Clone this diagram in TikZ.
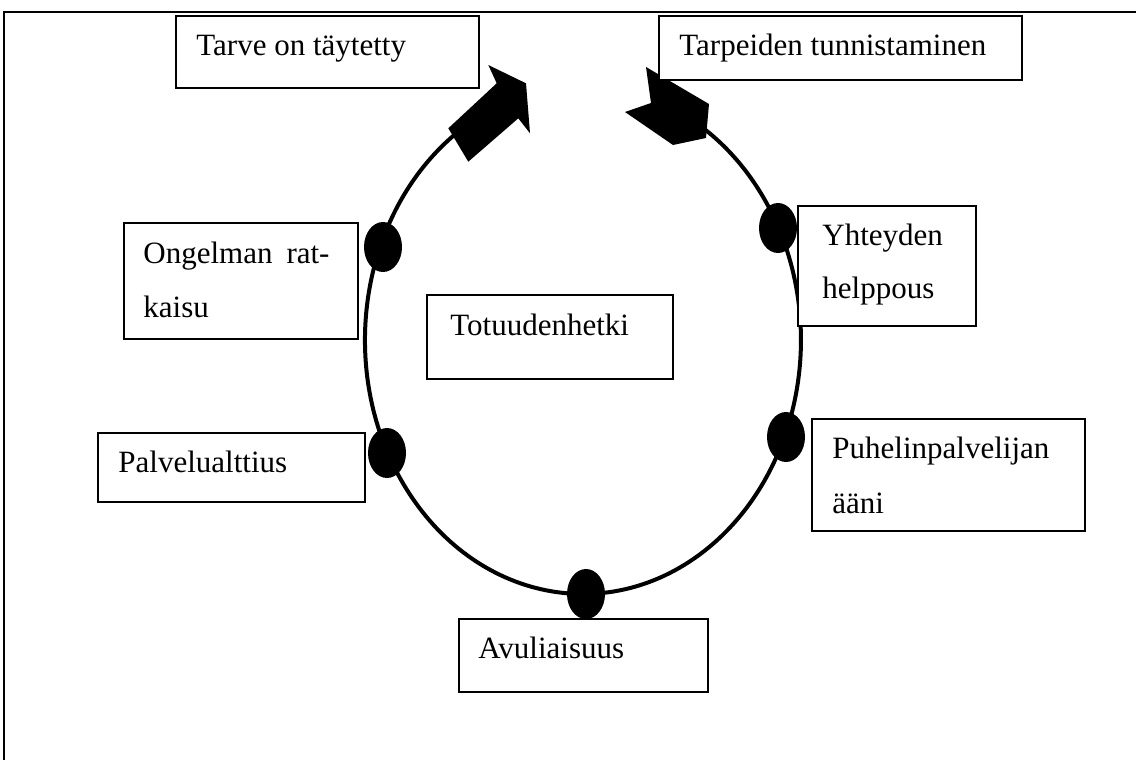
\documentclass[tikz,border=0pt]{standalone}
\usepackage{fontspec}
\setmainfont{Liberation Serif}
\usetikzlibrary{shapes.geometric}
\begin{document}
\begin{tikzpicture}[x=0.5pt,y=-0.5pt,
  box/.style={draw=black,line width=1pt,fill=white,inner sep=0pt,anchor=north west},
  lbl/.style={anchor=base west,inner sep=0pt,font=\fontsize{15.5}{18}\selectfont},
  dot/.style={ellipse,fill=black,draw=none,inner sep=0pt,minimum width=19pt,minimum height=25pt},
  ring/.style={line width=2pt,draw=black},
  blockarrow/.style={fill=black,draw=none}]
\useasboundingbox (0,0) rectangle (1136,760);
% frame
\coordinate (fTL) at (4,12);
\coordinate (fTR) at (1136,12);
\coordinate (fBL) at (4,760);
\draw[line width=1pt] (fBL) -- (fTL) -- (fTR);
% ring
\draw[ring] (453.3,135.8) arc[start angle=126.5,end angle=417.6,x radius=109pt,y radius=127pt];
% arrows
\fill[blockarrow] (448.3,128.3) -- (496.7,83.3) -- (488.3,65) -- (526,83.3) -- (530,133.3) -- (518.3,118.3) -- (468.3,161.7) -- cycle;
\fill[blockarrow] (646,67) -- (709,104) -- (706,138) -- (673,145) -- (625,112) -- (651,103) -- cycle;
% dots
\node[dot] (d1) at (383,247) {};
\node[dot] (d2) at (778,228) {};
\node[dot] (d3) at (387,453) {};
\node[dot] (d4) at (786,437) {};
\node[dot] (d5) at (586,594) {};
% boxes
\node[box,minimum width=151.5pt,minimum height=36pt] (b1) at (175,15) {};
\node[lbl] (t1) at (196,55) {Tarve on täytetty};
\node[box,minimum width=181.5pt,minimum height=32pt] (b2) at (658,15) {};
\node[lbl] (t2) at (679,55) {Tarpeiden tunnistaminen};
\node[box,minimum width=117pt,minimum height=58pt] (b3) at (123,222) {};
\node[lbl] (t3a) at (143,263) {Ongelman\hspace{7pt}rat-};
\node[lbl] (t3b) at (143,317) {kaisu};
\node[box,minimum width=123pt,minimum height=42pt] (b4) at (426,294) {};
\node[lbl] (t4) at (450,335) {Totuudenhetki};
\node[box,minimum width=89pt,minimum height=60pt] (b5) at (797,205) {};
\node[lbl] (t5a) at (822,245) {Yhteyden};
\node[lbl] (t5b) at (822,298) {helppous};
\node[box,minimum width=133.5pt,minimum height=34.5pt] (b6) at (97,432) {};
\node[lbl] (t6) at (118,472) {Palvelualttius};
\node[box,minimum width=136.5pt,minimum height=56pt] (b7) at (811,418) {};
\node[lbl] (t7a) at (832,458) {Puhelinpalvelijan};
\node[lbl] (t7b) at (832,513) {ääni};
\node[box,minimum width=124.5pt,minimum height=36.5pt] (b8) at (458,618) {};
\node[lbl] (t8) at (478,658) {Avuliaisuus};
\end{tikzpicture}
\end{document}
